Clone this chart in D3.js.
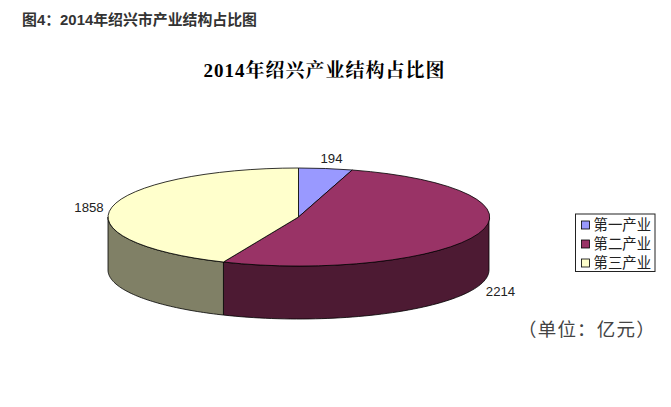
<!DOCTYPE html>
<html><head><meta charset="utf-8">
<script src="https://cdn.jsdelivr.net/npm/d3@7"></script>
<style>html,body{margin:0;padding:0;background:#fff}svg{display:block}</style>
</head><body><svg id="c" width="671" height="407"></svg>
<script>
const categories = ["第一产业","第二产业","第三产业"];
const values = [194,2214,1858];
const topColors = ["#9999ff","#993366","#ffffcc"];
const sideColors = ["#4d4d80","#4d1a33","#808066"];
const labelPos = [[331.5,158],[500.5,291],[89,207]];
const headText = "图4：2014年绍兴市产业结构占比图";
const titleText = "2014年绍兴产业结构占比图";
const unitText = "（单位：亿元）";

const svg = d3.select("#c");
const cx=298.5, cy=217, rx=190.5, ry=49, depth=53;
const sans = "'Liberation Sans','Noto Sans CJK SC',sans-serif";

svg.append("text").attr("x",22).attr("y",25).attr("font-family",sans).attr("font-weight",700)
  .attr("font-size",14.9).attr("fill","#333").text(headText);
svg.append("text").attr("x",324.5).attr("y",77).attr("text-anchor","middle")
  .attr("font-family","'Liberation Serif','Noto Serif CJK SC','Noto Sans CJK SC',serif")
  .attr("font-weight",700).attr("font-size",19).attr("letter-spacing",1).attr("fill","#000").text(titleText);

const pie = d3.pie().sort(null).value(d=>d)(values);
const px = d3.scaleLinear().domain([-1,1]).range([cx-rx,cx+rx]);
const py = d3.scaleLinear().domain([-1,1]).range([cy-ry,cy+ry]);
const pt = (a,dz=0)=>[px(Math.sin(a)),py(-Math.cos(a))+dz];

// side walls (visible front half only)
const line = d3.line();
pie.forEach((s,i)=>{
  const a0=Math.max(s.startAngle,Math.PI/2), a1=Math.min(s.endAngle,Math.PI*1.5);
  if(a1<=a0) return;
  const as=d3.range(0,61).map(k=>a0+(a1-a0)*k/60);
  const pts=as.map(a=>pt(a)).concat(as.slice().reverse().map(a=>pt(a,depth)));
  svg.append("path").attr("d",line(pts)+"Z").attr("fill",sideColors[i])
    .attr("stroke","#000").attr("stroke-width",0.8).attr("stroke-linejoin","round");
});

// top faces
const arc = d3.arc().innerRadius(0).outerRadius(1);
svg.append("g").selectAll("path").data(pie).join("path")
  .attr("d",arc)
  .attr("transform",`translate(${cx},${cy}) scale(${rx},${ry})`)
  .attr("fill",(d,i)=>topColors[i])
  .attr("stroke","#000").attr("stroke-width",0.8)
  .attr("vector-effect","non-scaling-stroke");

// data labels
svg.append("g").selectAll("text").data(values).join("text")
  .attr("x",(d,i)=>labelPos[i][0]).attr("y",(d,i)=>labelPos[i][1]+5)
  .attr("text-anchor","middle").attr("font-family",sans).attr("font-size",13.2).attr("fill","#222")
  .text(d=>d);

// legend
const lx=575.5, ly=214, lw=79.5, lh=57.5;
svg.append("rect").attr("x",lx).attr("y",ly).attr("width",lw).attr("height",lh)
  .attr("fill","#fff").attr("stroke","#222").attr("stroke-width",1);
const ly2 = d3.scalePoint().domain(categories).range([225,263]);
const g = svg.append("g").selectAll("g").data(categories).join("g")
  .attr("transform",d=>`translate(0,${ly2(d)})`);
g.append("rect").attr("x",581.5).attr("y",-4).attr("width",8).attr("height",8)
  .attr("fill",(d,i)=>topColors[i]).attr("stroke","#000").attr("stroke-width",0.8);
g.append("text").attr("x",593.5).attr("y",5).attr("font-family","'Noto Sans CJK SC',sans-serif")
  .attr("font-size",14.4).attr("fill","#222").text(d=>d);

svg.append("text").attr("x",518).attr("y",336).attr("font-family","'Noto Sans CJK SC',sans-serif")
  .attr("font-size",18.5).attr("letter-spacing",1.2).attr("fill","#444").text(unitText);
</script></body></html>
